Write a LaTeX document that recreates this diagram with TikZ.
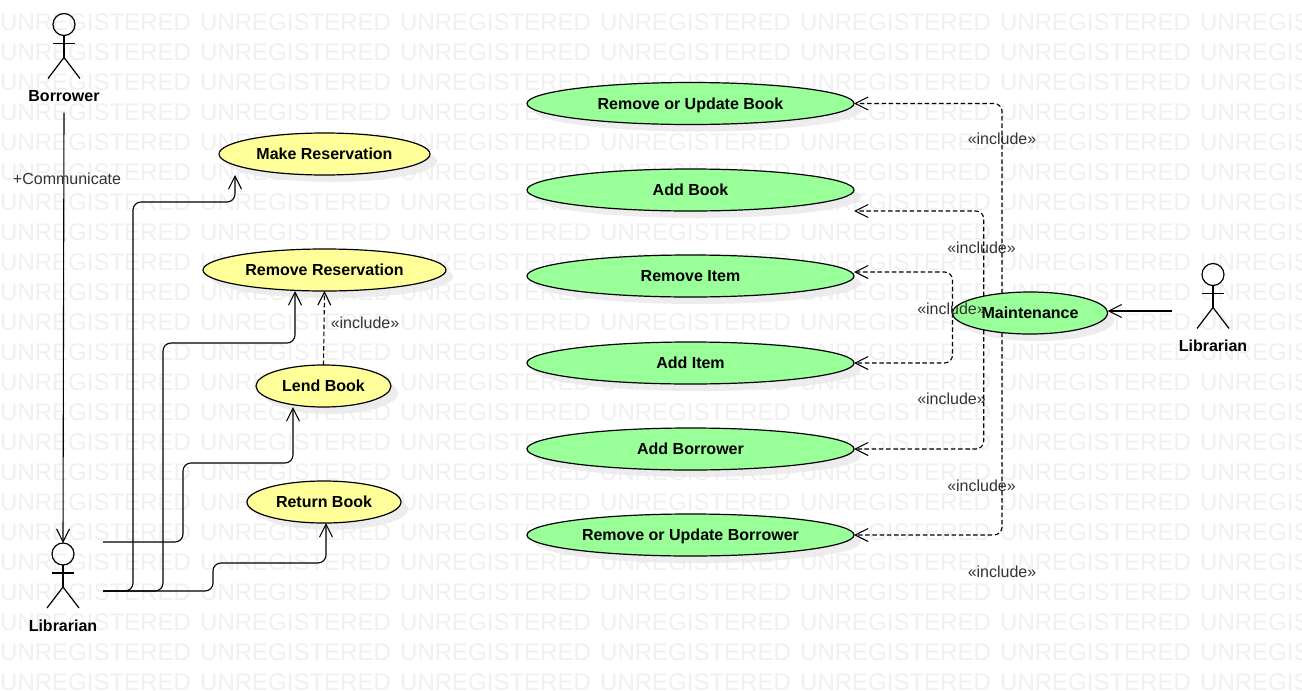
\documentclass[tikz,border=0pt]{standalone}
\usepackage{fontspec}
\setmainfont{Liberation Sans}
\usetikzlibrary{arrows.meta,shapes.geometric,shadows}

\definecolor{usecaseyellow}{HTML}{FFFF99}
\definecolor{usecasegreen}{HTML}{99FF99}
\definecolor{watermarkgray}{HTML}{F0F0F0}

\tikzset{
  usecase/.style={ellipse, draw=black, line width=1.2pt, inner sep=0pt, outer sep=0pt, font=\fontsize{16}{18}\selectfont\bfseries,
    text height=12pt, text depth=0.5pt,
    drop shadow={shadow xshift=7pt, shadow yshift=-7pt, fill=black!9, opacity=0.75}},
  yellowcase/.style={usecase, fill=usecaseyellow},
  greencase/.style={usecase, fill=usecasegreen},
  actorname/.style={font=\fontsize{16}{18}\selectfont\bfseries},
  linktext/.style={font=\fontsize{16}{18}\selectfont, text=black!80, inner sep=0pt},
  assoc/.style={line width=1.1pt, rounded corners=8pt, -{Straight Barb[length=13pt,width=13pt]}},
  incl/.style={assoc, dash pattern=on 4.5pt off 2.7pt},
  markword/.style={font=\fontsize{24}{26}\selectfont, text=watermarkgray, anchor=west, inner sep=0pt},
  actor/.pic={
    \node[circle, draw, line width=1.2pt, minimum size=22pt, inner sep=0pt, outer sep=0pt] (-head) at (0,0) {};
    \draw[line width=1.2pt] (-head.south) -- (0,33);
    \draw[line width=1.2pt] (-11,19) -- (11,19);
    \draw[line width=1.2pt] (-16,54) -- (0,33) -- (16,54);
  }
}

\begin{document}
\begin{tikzpicture}[x=1pt, y=-1pt]

\useasboundingbox (0,0) rectangle (1302,691);
\fill[white] (0,0) rectangle (1302,691);

% watermark
\foreach \col in {0,...,6}
  \foreach \row in {0,...,22}
    \node[markword, name=mark\col-\row] at ({\col*200},{\row*30+22}) {UNREGISTERED};

% actors
\pic (borrower) at (64,24.5) {actor};
\pic (librarian) at (63,554) {actor};
\pic (keeper) at (1213,274.5) {actor};
\node[actorname] (borrowername) at (64,96) {Borrower};
\node[actorname] (librarianname) at (63,625.5) {Librarian};
\node[actorname] (keepername) at (1213,345.5) {Librarian};

% use cases
\node[yellowcase, minimum width=211pt, minimum height=42pt] (makeres) at (324.5,154) {Make Reservation};
\node[yellowcase, minimum width=243pt, minimum height=42pt] (removeres) at (324.5,270) {Remove Reservation};
\node[yellowcase, minimum width=135pt, minimum height=42pt] (lendbook) at (323.5,386) {Lend Book};
\node[yellowcase, minimum width=154pt, minimum height=42pt] (returnbook) at (324,502) {Return Book};

\node[greencase, minimum width=327pt, minimum height=42pt] (removebook) at (690.5,103.5) {Remove or Update Book};
\node[greencase, minimum width=327pt, minimum height=42pt] (addbook) at (690.5,190) {Add Book};
\node[greencase, minimum width=327pt, minimum height=42pt] (removeitem) at (690.5,276) {Remove Item};
\node[greencase, minimum width=327pt, minimum height=42pt] (additem) at (690.5,363) {Add Item};
\node[greencase, minimum width=327pt, minimum height=42pt] (addborrower) at (690.5,449) {Add Borrower};
\node[greencase, minimum width=327pt, minimum height=42pt] (removeborrower) at (690.5,535) {Remove or Update Borrower};
\node[greencase, minimum width=155pt, minimum height=42pt] (maintenance) at (1030,313) {Maintenance};

% free ends
\coordinate (borrowerout) at (64,112.5);
\coordinate (libupper) at (103,542);
\coordinate (liblower) at (103,591);
\coordinate (keeperout) at (1172,311);

% associations
\draw[assoc] (borrowerout) -- (librarian-head.north);
\draw[assoc] (liblower) -| (133,202) -| ([xshift=-89.5pt]makeres.south);
\draw[assoc] (liblower) -| (163,343) -| ([xshift=-29.5pt]removeres.south);
\draw[assoc] (libupper) -| (183,463) -| ([xshift=-30.5pt]lendbook.south);
\draw[assoc] (liblower) -| (213,563) -| ([xshift=2pt]returnbook.south);
\draw[assoc] (keeperout) -- ([yshift=2pt]maintenance.east);

% includes
\draw[incl] (lendbook.north) -- (removeres.south);
\draw[incl] (maintenance.145) |- (removebook.east);
\draw[incl] (maintenance.160) |- ([yshift=-21pt]addbook.east);
\draw[incl] (maintenance.west) |- ([yshift=4pt]removeitem.east);
\draw[incl] (maintenance.west) |- (additem.east);
\draw[incl] (maintenance.200) |- (addborrower.east);
\draw[incl] (maintenance.215) |- (removeborrower.east);

% connector labels
\node[linktext] (communicate) at (67,178.5) {+Communicate};
\node[linktext] (inclend) at (365,322.5) {«include»};
\node[linktext] (inclremovebook) at (1002,139) {«include»};
\node[linktext] (incladdbook) at (981.5,248) {«include»};
\node[linktext] (inclremoveitem) at (951.5,309) {«include»};
\node[linktext] (incladditem) at (951.5,398.5) {«include»};
\node[linktext] (incladdborrower) at (981.5,486) {«include»};
\node[linktext] (inclremoveborrower) at (1002,571.5) {«include»};

\end{tikzpicture}
\end{document}
